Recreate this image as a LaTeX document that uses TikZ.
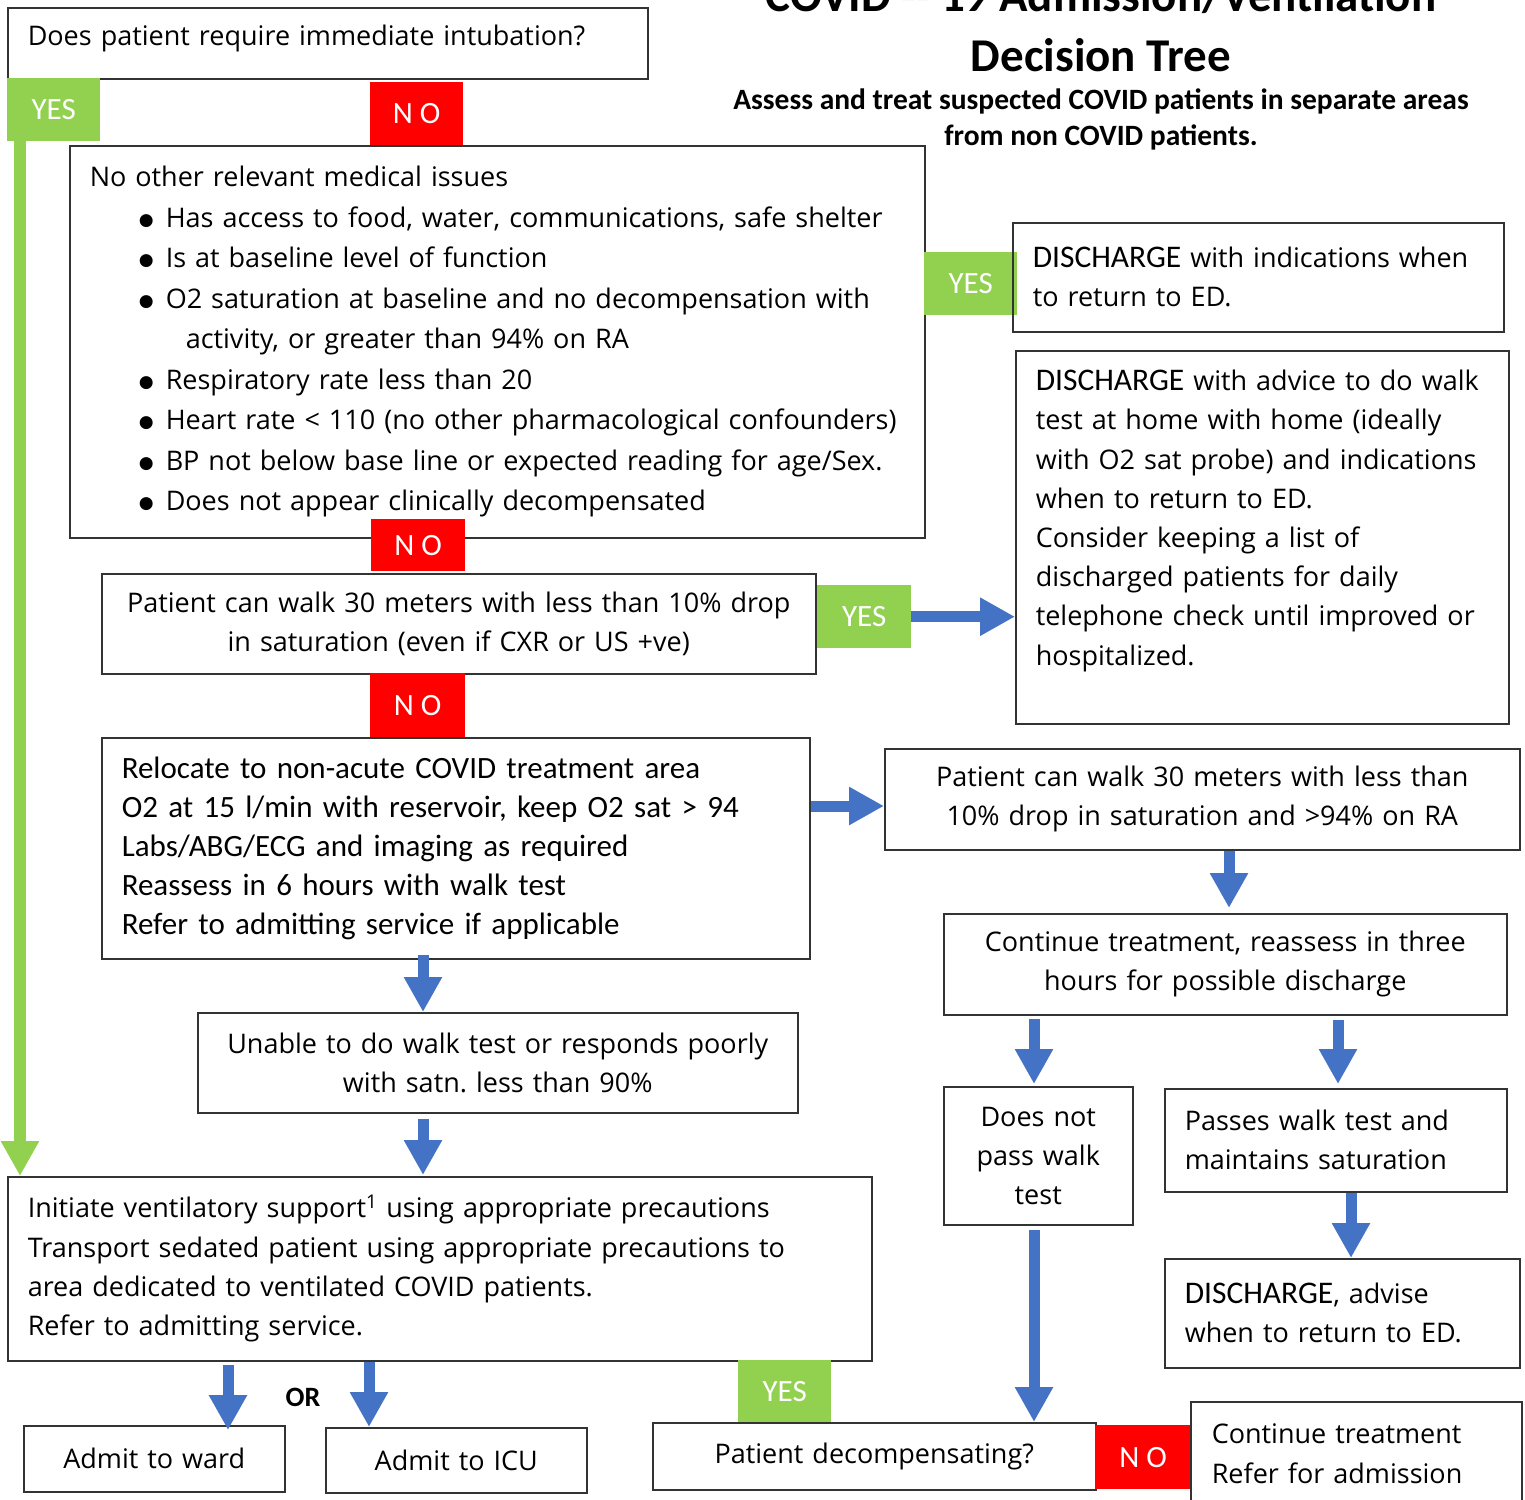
\documentclass[tikz,border=0pt]{standalone}
\usepackage{fontspec}
\setmainfont{Open Sans}
\newfontfamily\headfont{Carlito}
\newfontfamily\symfont{DejaVu Sans}
\usetikzlibrary{arrows.meta,positioning,calc}
\definecolor{yesgreen}{HTML}{92D050}
\definecolor{nored}{HTML}{FF0000}
\definecolor{flowblue}{HTML}{4472C4}
\newcommand\bul{\hspace*{49pt}\makebox[27pt][l]{\raisebox{2pt}{\symfont\fontsize{17}{17}\selectfont ●}}}
\newcommand\dis{{\headfont\fontsize{31.5}{39}\selectfont DISCHARGE}}

\begin{document}
\begin{tikzpicture}[x=1pt,y=-1pt,
  box/.style={draw=black!80,line width=1.5pt,anchor=north west,inner xsep=20pt,inner ysep=0pt,align=left,font=\fontsize{27}{39.2}\selectfont},
  cbox/.style={box,align=center},
  tag/.style={anchor=north west,minimum width=93pt,minimum height=63pt,inner sep=0pt,text=white,font=\headfont\fontsize{31}{32}\selectfont},
  yestag/.style={tag,fill=yesgreen},
  notag/.style={tag,fill=nored},
  flow/.style={-{Triangle[width=36pt,length=35pt]},line width=11pt,draw=flowblue},
  yesflow/.style={-{Triangle[width=36pt,length=35pt]},line width=12pt,draw=yesgreen}]
\useasboundingbox (0,0) rectangle (1525,1499);
% title
\node[anchor=base,font=\headfont\bfseries\fontsize{47}{47}\selectfont] (title) at (1101,11) {COVID -- 19 Admission/Ventilation};
\node[anchor=base,font=\headfont\bfseries\fontsize{47}{47}\selectfont] (subtitle) at (1101,71) {Decision Tree};
\node[anchor=base,align=center,font=\headfont\bfseries\fontsize{29.5}{36}\selectfont] (note) at (1101,145) {Assess and treat suspected COVID patients in separate areas\\from non COVID patients.};

% left column
\node[box,minimum width=640pt,minimum height=71pt,text width=600pt,text depth=16pt] (intub) at (7,7) {Does patient require immediate intubation?};
\node[yestag] (yesIntub) at (7,78) {YES};
\node[notag] (noIntub) at (370,82) {N O};
\node[box,minimum width=855pt,minimum height=392pt,text width=815pt,font=\fontsize{27}{40.5}\selectfont] (stable) at (69,145) {No other relevant medical issues\\
\bul Has access to food, water, communications, safe shelter\\
\bul Is at baseline level of function\\
\bul O2 saturation at baseline and no decompensation with\\
\hspace*{96pt}activity, or greater than 94\% on RA\\
\bul Respiratory rate less than 20\\
\bul Heart rate {<} 110 (no other pharmacological confounders)\\
\bul BP not below base line or expected reading for age/Sex.\\
\bul Does not appear clinically decompensated};
\node[notag,minimum width=94pt,minimum height=52pt] (noStable) at (371,519) {N O};
\node[cbox,minimum width=714pt,minimum height=100pt,text width=674pt] (walkA) at (101,573) {Patient can walk 30 meters with less than 10\% drop\\in saturation (even if CXR or US +ve)};
\node[notag,minimum width=95pt,minimum height=64pt] (noWalk) at (370,673) {N O};
\node[box,minimum width=708pt,minimum height=221pt,text width=668pt,font=\headfont\fontsize{31}{39}\selectfont] (reloc) at (101,737) {Relocate to non-acute COVID treatment area\\
O2 at 15 l/min with reservoir, keep O2 sat {>} 94\\
Labs/ABG/ECG and imaging as required\\
Reassess in 6 hours with walk test\\
Refer to admitting service if applicable};
\node[cbox,minimum width=600pt,minimum height=100pt,text width=560pt] (unable) at (197,1012) {Unable to do walk test or responds poorly\\with satn.\ less than 90\%};
\node[box,minimum width=864pt,minimum height=184pt,text width=824pt] (vent) at (7,1176) {Initiate ventilatory support\textsuperscript{1} using appropriate precautions\\
Transport sedated patient using appropriate precautions to\\
area dedicated to ventilated COVID patients.\\
Refer to admitting service.};
\node[cbox,minimum width=261pt,minimum height=66pt,text width=221pt] (ward) at (23,1425) {Admit to ward};
\node[cbox,minimum width=261pt,minimum height=65pt,text width=221pt] (icu) at (325,1427) {Admit to ICU};
\node[font=\headfont\bfseries\fontsize{28}{30}\selectfont] (orlabel) at (303,1397) {OR};

% right column
\node[yestag] (yesStable) at (924,252) {YES};
\node[box,minimum width=491pt,minimum height=109pt,text width=451pt] (dischA) at (1012,222) {\dis{} with indications when\\to return to ED.};
\node[yestag,minimum width=94pt] (yesWalk) at (817,585) {YES};
\node[box,minimum width=493pt,minimum height=373pt,text width=453pt] (dischB) at (1015,350) {\dis{} with advice to do walk\\
test at home with home (ideally\\
with O2 sat probe) and indications\\
when to return to ED.\\
Consider keeping a list of\\
discharged patients for daily\\
telephone check until improved or\\
hospitalized.\\ \mbox{}};
\node[cbox,minimum width=635pt,minimum height=101pt,text width=595pt] (walkB) at (884,748) {Patient can walk 30 meters with less than\\10\% drop in saturation and {>}94\% on RA};
\node[cbox,minimum width=563pt,minimum height=101pt,text width=523pt] (contA) at (943,913) {Continue treatment, reassess in three\\hours for possible discharge};
\node[cbox,minimum width=189pt,minimum height=138pt,text width=160pt,inner xsep=14pt] (failWalk) at (943,1086) {Does not\\pass walk\\test};
\node[box,minimum width=342pt,minimum height=103pt,text width=302pt] (passWalk) at (1164,1088) {Passes walk test and\\maintains saturation};
\node[box,minimum width=355pt,minimum height=109pt,text width=315pt] (dischC) at (1164,1258) {\dis, advise\\when to return to ED.};
\node[yestag,minimum height=62pt] (yesDecomp) at (738,1360) {YES};
\node[cbox,minimum width=443pt,minimum height=67pt,text width=403pt] (decomp) at (652,1422) {Patient decompensating?};
\node[notag,minimum width=96pt,minimum height=64pt] (noDecomp) at (1095,1425) {N O};
\node[box,minimum width=329pt,minimum height=104pt,text width=289pt,inner xsep=21pt] (contB) at (1190,1401) {Continue treatment\\Refer for admission};

% connectors
\coordinate (yesLine) at ($(yesIntub.south west)+(13,0)$);
\draw[yesflow] (yesLine) -- (yesLine |- vent.north);
\draw[flow] (yesWalk.east) -- (yesWalk.east -| dischB.west);
\coordinate (relocOut) at ($(reloc.north east)+(0,69)$);
\draw[flow] (relocOut) -- (relocOut -| walkB.west);
\coordinate (walkBOut) at ($(walkB.south west)+(345,0)$);
\draw[flow] (walkBOut) -- ($(walkBOut |- contA.north)+(0,-5)$);
\coordinate (contFail) at ($(contA.south west)+(91,3)$);
\draw[flow] (contFail) -- ($(contFail |- failWalk.north)+(0,-2)$);
\coordinate (contPass) at ($(contA.south west)+(395,4)$);
\draw[flow] (contPass) -- ($(contPass |- passWalk.north)+(0,-4)$);
\coordinate (passOut) at ($(passWalk.south west)+(187,0)$);
\draw[flow] (passOut) -- (passOut |- dischC.north);
\coordinate (failOut) at ($(failWalk.south west)+(91,4)$);
\draw[flow] (failOut) -- (failOut |- decomp.north);
\coordinate (relocOutB) at ($(reloc.south west)+(322,-5)$);
\draw[flow] (relocOutB) -- (relocOutB |- unable.north);
\coordinate (unableOut) at ($(unable.south west)+(226,5)$);
\draw[flow] (unableOut) -- ($(unableOut |- vent.north)+(0,-1)$);
\coordinate (wardIn) at ($(vent.south west)+(221,3)$);
\draw[flow] (wardIn) -- ($(wardIn |- ward.north)+(0,5)$);
\coordinate (icuIn) at ($(vent.south west)+(362,0)$);
\draw[flow] (icuIn) -- (icuIn |- icu.north);
\end{tikzpicture}
\end{document}
